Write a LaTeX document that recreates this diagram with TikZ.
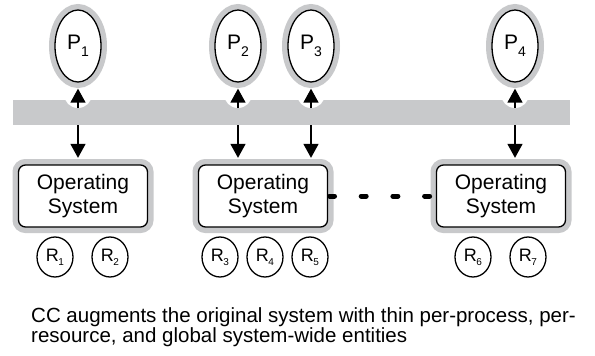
\documentclass[tikz,border=0pt]{standalone}
\usepackage{fontspec}
\setmainfont{Liberation Sans}
\usetikzlibrary{arrows.meta,shapes.geometric}
\definecolor{shade}{RGB}{200,201,203}
\newcommand\plab[1]{P\raisebox{-7pt}{\fontsize{14}{14}\selectfont #1}}
\newcommand\rlab[1]{R\kern-0.5pt\raisebox{-4pt}{\fontsize{10}{10}\selectfont #1}}
\tikzset{
  proc/.style={ellipse, draw=black, line width=1.3pt, fill=white, minimum width=46pt, minimum height=72pt, inner sep=0pt, preaction={draw=shade, line width=12pt}, font=\fontsize{21}{21}\selectfont},
  ossys/.style={rectangle, rounded corners=7pt, draw=black, line width=1.3pt, fill=white, minimum width=129pt, minimum height=62pt, align=center, preaction={draw=shade, line width=12pt}, font=\fontsize{21}{24}\selectfont},
  res/.style={ellipse, draw=black, line width=1.3pt, minimum width=36pt, minimum height=40pt, inner sep=0pt, font=\fontsize{18}{18}\selectfont},
  bus/.style={rectangle, fill=shade, minimum width=557pt, minimum height=25pt, inner sep=0pt},
  notch/.style={circle, fill=white, minimum size=28pt, inner sep=0pt},
  flow/.style={-{Triangle[length=14pt, width=15pt]}, line width=1.5pt, draw=black},
  dots/.style={line width=5pt, line cap=round, dash pattern=on 5pt off 26.7pt, dash phase=30.35pt},
  caption/.style={align=left, inner sep=0pt, font=\fontsize{20.5}{20}\selectfont}
}
\begin{document}
\begin{tikzpicture}[x=1pt, y=-1pt]
  \useasboundingbox (0,0) rectangle (595,356);

  % shared bar with notches under the processes
  \node[bus] (bar) at (291.5,112.5) {};
  \node[notch] (n1) at (78,94) {};
  \node[notch] (n2) at (238,94) {};
  \node[notch] (n3) at (311,94) {};
  \node[notch] (n4) at (515,94) {};

  \node[proc] (p1) at (78,46) {\plab{1}};
  \node[proc] (p2) at (238,46) {\plab{2}};
  \node[proc] (p3) at (311,46) {\plab{3}};
  \node[proc] (p4) at (515,46) {\plab{4}};

  \node[ossys] (os1) at (83,196) {Operating\\System};
  \node[ossys] (os2) at (263,196) {Operating\\System};
  \node[ossys] (os3) at (501,196) {Operating\\System};

  \node[res] (r1) at (55,257) {\rlab{1}};
  \node[res] (r2) at (110,257) {\rlab{2}};
  \node[res] (r3) at (220,257) {\rlab{3}};
  \node[res] (r4) at (265,257) {\rlab{4}};
  \node[res] (r5) at (310,257) {\rlab{5}};
  \node[res] (r6) at (473,257) {\rlab{6}};
  \node[res] (r7) at (528,257) {\rlab{7}};

  \draw[flow, shorten >=6pt] (n1.south) -- (p1);
  \draw[flow, shorten >=6pt] (n2.south) -- (p2);
  \draw[flow, shorten >=6pt] (n3.south) -- (p3);
  \draw[flow, shorten >=6pt] (n4.south) -- (p4);

  \draw[flow, shorten >=6.5pt] (p1 |- bar.south) -- (p1 |- os1.north);
  \draw[flow, shorten >=6.5pt] (p2 |- bar.south) -- (p2 |- os2.north);
  \draw[flow, shorten >=6.5pt] (p3 |- bar.south) -- (p3 |- os2.north);
  \draw[flow, shorten >=6.5pt] (p4 |- bar.south) -- (p4 |- os3.north);

  \draw[dots] (os2.east) -- (os3.west);

  \node[caption, anchor=north west] (cap) at (31,307) {CC augments the original system with thin per-process, per-\\resource, and global system-wide entities};
\end{tikzpicture}
\end{document}
